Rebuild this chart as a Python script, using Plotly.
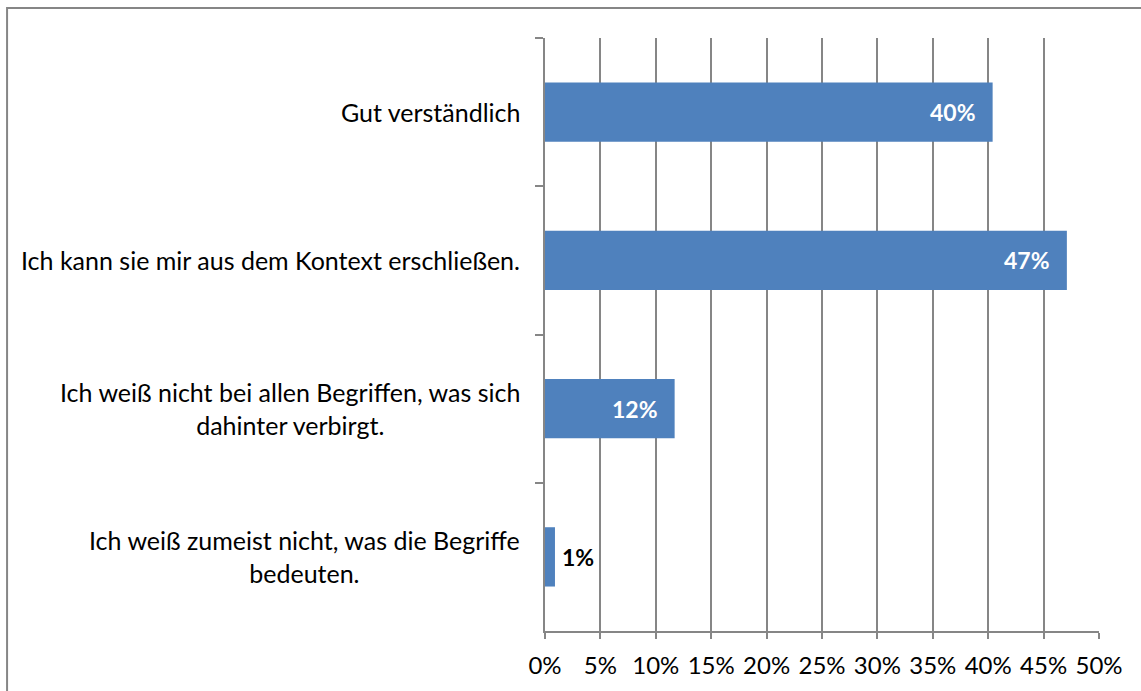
"""Balkendiagramm: Verständlichkeit der Begriffe."""

import plotly.graph_objects as go

CATEGORIES = [
    "Gut verständlich",
    "Ich kann sie mir aus dem Kontext erschließen.",
    "Ich weiß nicht bei allen Begriffen, was sich<br>dahinter verbirgt.",
    "Ich weiß zumeist nicht, was die Begriffe<br>bedeuten.",
]
SHARES = [0.404, 0.471, 0.117, 0.009]
X_TICKS = [0, 0.05, 0.10, 0.15, 0.20, 0.25, 0.30, 0.35, 0.40, 0.45, 0.50]

BAR_COLOR = "#4F81BD"
GRID_COLOR = "#868686"
FONT = "Lato, Carlito, Calibri, sans-serif"

fig = go.Figure()

fig.add_trace(go.Bar(
    y=CATEGORIES,
    x=SHARES,
    orientation="h",
    width=0.4,
    marker=dict(color=BAR_COLOR, line=dict(width=0)),
    hovertemplate="%{y}: %{x:.0%}<extra></extra>",
))

# Datenbeschriftungen: innen weiß, bei sehr kurzen Balken außen schwarz
for cat, val in zip(CATEGORIES, SHARES):
    inside = val > 0.05
    fig.add_annotation(
        x=val, y=cat, xref="x", yref="y",
        text=f"<b>{val:.0%}</b>",
        showarrow=False,
        xanchor="right" if inside else "left",
        xshift=-15 if inside else 5,
        font=dict(family=FONT, size=23, color="white" if inside else "black"),
    )

# Kategorienbeschriftungen (zentriert, rechtsbündig am Achsenrand)
for cat in CATEGORIES:
    fig.add_annotation(
        x=0, y=cat, xref="paper", yref="y",
        text=cat, showarrow=False,
        xanchor="right", align="center", xshift=-23,
        font=dict(family=FONT, size=25, color="black"),
    )

# Rahmen um das Diagramm (rechter und unterer Rand außerhalb des Bildes)
fig.add_shape(
    type="rect", xref="paper", yref="paper",
    x0=-0.971, x1=1.2, y0=-0.2, y1=1.0506,
    line=dict(color=GRID_COLOR, width=2),
    layer="below",
)

fig.update_layout(
    width=1141,
    height=691,
    margin=dict(l=545, r=42, t=38, b=60),
    paper_bgcolor="white",
    plot_bgcolor="white",
    showlegend=False,
    font=dict(family=FONT, size=24, color="black"),
    xaxis=dict(
        range=[0, 0.5],
        tickvals=X_TICKS,
        tickformat=".0%",
        showgrid=True,
        gridcolor=GRID_COLOR,
        gridwidth=1.5,
        showline=True,
        linecolor=GRID_COLOR,
        linewidth=1.5,
        ticks="outside",
        ticklen=6,
        tickcolor=GRID_COLOR,
        tickwidth=1.5,
        ticklabelstandoff=6,
        zeroline=False,
        tickfont=dict(family=FONT, size=24, color="black"),
    ),
    yaxis=dict(
        autorange="reversed",
        showticklabels=False,
        showgrid=False,
        showline=True,
        linecolor=GRID_COLOR,
        linewidth=2,
        ticks="outside",
        ticklen=8,
        tickcolor=GRID_COLOR,
        tickwidth=1.5,
        tickson="boundaries",
        zeroline=False,
    ),
)

fig.write_html(
    "out.html",
    config={"displayModeBar": False},
    post_script="document.body.style.margin='0';",
)
